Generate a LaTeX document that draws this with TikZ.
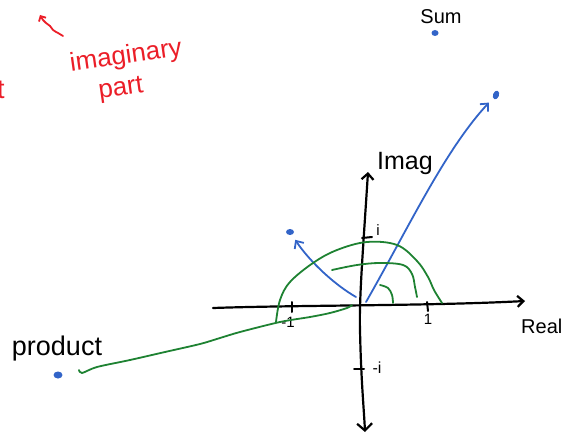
\documentclass[tikz,border=0pt]{standalone}
\usepackage{fontspec}
\setmainfont{Liberation Sans}
\usetikzlibrary{arrows.meta,shapes.geometric}
\definecolor{penblue}{RGB}{50,100,200}
\definecolor{pengreen}{RGB}{30,130,50}
\definecolor{penred}{RGB}{235,30,40}
\begin{document}
\begin{tikzpicture}[x=1pt,y=-1pt,
  axis/.style={line width=2.2pt, black, line cap=round, line join=round},
  bluepen/.style={line width=1.8pt, penblue, line cap=round, line join=round},
  greenpen/.style={line width=1.8pt, pengreen, line cap=round, line join=round},
  redpen/.style={line width=1.8pt, penred, line cap=round, line join=round},
  tip/.style={-{Straight Barb[length=6pt,width=11pt]}},
  bdot/.style={ellipse, fill=penblue, inner sep=0pt, minimum width=#1},
  lbl/.style={font=\fontsize{#1}{#1}\selectfont, inner sep=0pt},
  tick/.style={line width=2pt, black, line cap=round}
]
\useasboundingbox (0,0) rectangle (564,438);

% axes
\coordinate (realL) at (213,308);
\coordinate (realR) at (525,301);
\coordinate (imagT) at (368,172);
\coordinate (imagB) at (365,432);
\draw[axis, tip] (realL) .. controls (300,305) and (430,306) .. (realR);
\draw[axis, {Straight Barb[length=6pt,width=12pt]}-{Straight Barb[length=7pt,width=15pt]}]
  (imagT) .. controls (363,250) and (359,300) .. (360,330) .. controls (361,380) and (364,410) .. (imagB);

% ticks
\draw[tick] (362,238) -- (372,237);
\node[lbl=15] (ilbl) at (378,230) {i};
\draw[tick] (354,369) -- (364,369);
\node[lbl=16] (milbl) at (377,368) {-i};
\draw[tick] (292,302) -- (292,312);
\node[lbl=15] (m1lbl) at (288,322) {-1};
\draw[tick] (427,302) -- (428,311);
\node[lbl=15] (onelbl) at (428,319) {1};

% labels
\node[lbl=20, anchor=base west] (real) at (521,333) {Real};
\node[lbl=25, anchor=base west] (imag) at (377,170) {Imag};
\node[lbl=20, anchor=base] (sumlbl) at (441,24) {Sum};
\node[lbl=27, anchor=base] (prodlbl) at (57,355) {product};

% blue points and arrows
\node[bdot=7pt, minimum height=6pt] (sum) at (435,33) {};
\node[bdot=6pt, minimum height=9pt, rotate=-20] (pR) at (496,95) {};
\node[bdot=8pt, minimum height=6pt] (pL) at (290,232) {};
\node[bdot=9pt, minimum height=7pt] (prod) at (58,375) {};
\coordinate (sA) at (366,302);
\coordinate (sB) at (356,297);
\draw[bluepen, tip, shorten >=6pt] (sA) .. controls (410,225) and (445,150) .. (pR);
\draw[bluepen, tip, shorten >=6pt] (sB) .. controls (335,285) and (310,262) .. (pL);

% green curves
\draw[greenpen] plot[smooth, tension=0.6] coordinates {(276,322) (280,300) (290,282) (313,263) (337,250) (367,242) (397,245) (417,261) (428,277) (434,290) (442,303)};
\draw[greenpen] plot[smooth, tension=0.6] coordinates {(332,270) (357,265) (380,263) (403,265) (412,274) (415,287) (417,297)};
\draw[greenpen] plot[smooth, tension=0.6] coordinates {(380,285) (388,288) (392,295) (393,303)};
\draw[greenpen] plot[smooth, tension=0.5] coordinates {(79,370) (82,373) (97,367) (130,360) (165,352) (200,344) (220,338) (240,332) (280,322) (310,317) (330,313) (347,308) (352,305)};

% red annotation
\draw[redpen, -{Straight Barb[length=4pt,width=8pt]}] plot[smooth, tension=0.6] coordinates {(63,36) (58,33) (53,30) (50,26) (46,23) (43,20) (40,15)};
\node[lbl=26, text=penred, rotate=8] (imlbl) at (126,57) {imaginary};
\node[lbl=26, text=penred, rotate=8] (partlbl) at (121,90) {part};
\node[lbl=27, text=penred] (tlbl) at (1,90) {t};
\end{tikzpicture}
\end{document}
